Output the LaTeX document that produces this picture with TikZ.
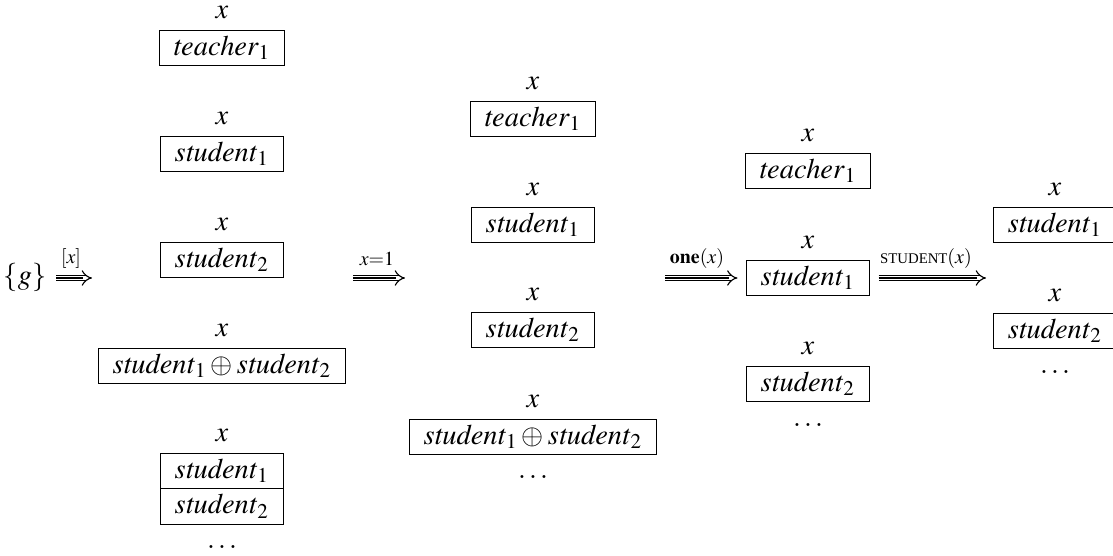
\documentclass[tikz,border=0pt]{standalone}
\usepackage{mathptmx}
\usepackage{fontspec}
\setmainfont{Liberation Serif}
\usetikzlibrary{positioning,arrows.meta}
\tikzset{
  box/.style={draw, line width=0.4pt, inner xsep=5pt, inner ysep=1.8pt, text height=7pt, text depth=2pt},
  var/.style={inner sep=1pt},
  lbl/.style={font=\scriptsize, inner sep=1pt},
  imp/.style={double, double distance=1.5pt, line width=0.4pt, -{Implies}},
  midline/.style={line width=0.4pt, shorten >=3pt}
}
\newcommand{\stu}[1]{$\mathit{student}_{#1}$}
\newcommand{\tea}{$\mathit{teacher}_1$}
\newcommand{\sumstu}{$\mathit{student}_1\oplus\mathit{student}_2$}
\begin{document}
\begin{tikzpicture}[x=0.352pt, y=-0.352pt]
\useasboundingbox (0,0) rectangle (1113,556);
% start
\node (g) at (25,278) {$\{g\}$};
% first column
\node[box] (c1t) at (222,48) {\tea};
\node[box] (c1a) at (222,154) {\stu{1}};
\node[box] (c1b) at (222,260) {\stu{2}};
\node[box] (c1s) at (222,366) {\sumstu};
\node[box] (c1p) at (222,471) {\stu{1}};
\node[box, below=-0.4pt of c1p] (c1q) {\stu{2}};
\node[var, above=2.7pt of c1t] (x1t) {$x$};
\node[var, above=2.7pt of c1a] (x1a) {$x$};
\node[var, above=2.7pt of c1b] (x1b) {$x$};
\node[var, above=2.7pt of c1s] (x1s) {$x$};
\node[var, above=2.7pt of c1p] (x1p) {$x$};
\node (d1) at (222,547) {$\dots$};
% second column
\node[box] (c2t) at (533,119) {\tea};
\node[box] (c2a) at (533,225) {\stu{1}};
\node[box] (c2b) at (533,330) {\stu{2}};
\node[box] (c2s) at (533,437) {\sumstu};
\node[var, above=2.7pt of c2t] (x2t) {$x$};
\node[var, above=2.7pt of c2a] (x2a) {$x$};
\node[var, above=2.7pt of c2b] (x2b) {$x$};
\node[var, above=2.7pt of c2s] (x2s) {$x$};
\node (d2) at (533,477) {$\dots$};
% third column
\node[box] (c3t) at (808,171) {\tea};
\node[box] (c3a) at (808,278) {\stu{1}};
\node[box] (c3b) at (808,384) {\stu{2}};
\node[var, above=2.7pt of c3t] (x3t) {$x$};
\node[var, above=2.7pt of c3a] (x3a) {$x$};
\node[var, above=2.7pt of c3b] (x3b) {$x$};
\node (d3) at (808,425) {$\dots$};
% fourth column
\node[box] (c4a) at (1055,225) {\stu{1}};
\node[box] (c4b) at (1055,331) {\stu{2}};
\node[var, above=2.7pt of c4a] (x4a) {$x$};
\node[var, above=2.7pt of c4b] (x4b) {$x$};
\node (d4) at (1055,372) {$\dots$};
% arrows
\coordinate (a1e) at (92,278);
\coordinate (a2s) at (353,278);
\coordinate (a2e) at (405,278);
\coordinate (a3s) at (665,278);
\coordinate (a4e) at (986,278);
\draw[imp] (g.east) -- (a1e);
\draw[midline] (g.east) -- (a1e);
\draw[imp] (a2s) -- (a2e);
\draw[midline] (a2s) -- (a2e);
\draw[imp] (a3s) -- ([xshift=-3pt]c3a.west);
\draw[midline] (a3s) -- ([xshift=-3pt]c3a.west);
\draw[imp] ([xshift=3pt]c3a.east) -- (a4e);
\draw[midline] ([xshift=3pt]c3a.east) -- (a4e);
\node[lbl] (l1) at (71,259) {$[x]$};
\node[lbl] (l2) at (377,259) {$x{=}1$};
\node[lbl] (l3) at (697,259) {$\mathbf{one}(x)$};
\node[lbl] (l4) at (926,259) {{\fontsize{5.2}{6}\selectfont STUDENT}$(x)$};
\end{tikzpicture}
\end{document}
